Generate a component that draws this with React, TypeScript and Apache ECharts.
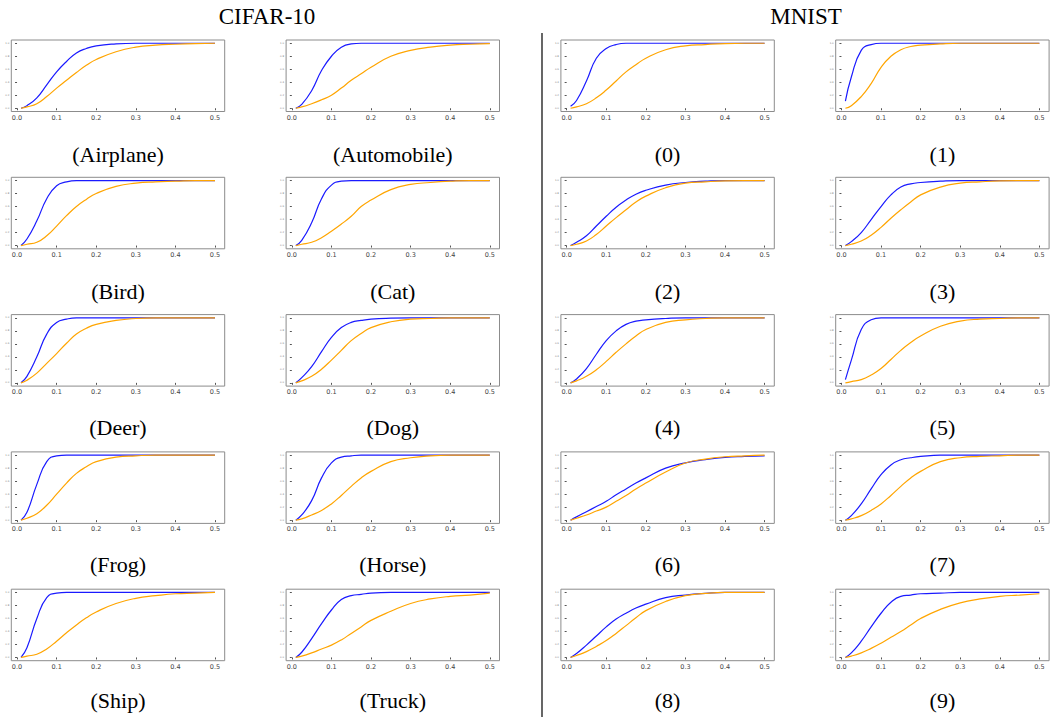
import React, { useEffect, useRef } from "react";
import * as echarts from "echarts";

const xs = [0.01, 0.025, 0.05, 0.075, 0.1, 0.125, 0.15, 0.175, 0.2, 0.25, 0.3, 0.35, 0.4, 0.45, 0.5];
const xTicks = [0, 0.1, 0.2, 0.3, 0.4, 0.5];
const yTicks = [0, 0.2, 0.4, 0.6, 0.8, 1.0];

const panelLabels = [
  "(Airplane)", "(Automobile)", "(0)", "(1)",
  "(Bird)", "(Cat)", "(2)", "(3)",
  "(Deer)", "(Dog)", "(4)", "(5)",
  "(Frog)", "(Horse)", "(6)", "(7)",
  "(Ship)", "(Truck)", "(8)", "(9)",
];
const headers = ["CIFAR-10", "MNIST"];

const blueAirplane = [0, 0.04, 0.16, 0.36, 0.56, 0.72, 0.85, 0.92, 0.96, 0.99, 1, 1, 1, 1, 1];
const orangeAirplane = [0, 0.02, 0.07, 0.18, 0.31, 0.43, 0.55, 0.66, 0.75, 0.87, 0.94, 0.97, 0.985, 0.995, 1];
const blueAutomobile = [0, 0.06, 0.27, 0.58, 0.8, 0.94, 0.99, 1, 1, 1, 1, 1, 1, 1, 1];
const orangeAutomobile = [0, 0.02, 0.07, 0.13, 0.2, 0.31, 0.43, 0.53, 0.63, 0.8, 0.89, 0.94, 0.97, 0.985, 0.995];
const blueM0 = [0.03, 0.12, 0.42, 0.77, 0.92, 0.98, 1, 1, 1, 1, 1, 1, 1, 1, 1];
const orangeM0 = [0, 0.02, 0.07, 0.16, 0.28, 0.42, 0.56, 0.67, 0.77, 0.9, 0.96, 0.98, 0.995, 1, 1];
const blueM1 = [0.11, 0.48, 0.89, 0.98, 1, 1, 1, 1, 1, 1, 1, 1, 1, 1, 1];
const orangeM1 = [0, 0.04, 0.18, 0.38, 0.63, 0.8, 0.9, 0.95, 0.97, 0.99, 1, 1, 1, 1, 1];

const blueBird = [0, 0.1, 0.38, 0.72, 0.92, 0.98, 1, 1, 1, 1, 1, 1, 1, 1, 1];
const orangeBird = [0, 0.02, 0.05, 0.15, 0.3, 0.46, 0.6, 0.71, 0.8, 0.91, 0.96, 0.98, 0.99, 1, 1];
const blueCat = [0, 0.08, 0.35, 0.72, 0.93, 0.99, 1, 1, 1, 1, 1, 1, 1, 1, 1];
const orangeCat = [0, 0.02, 0.05, 0.12, 0.22, 0.33, 0.45, 0.6, 0.7, 0.86, 0.94, 0.97, 0.99, 1, 1];
const blueM2 = [0, 0.05, 0.15, 0.3, 0.45, 0.59, 0.7, 0.79, 0.85, 0.93, 0.97, 0.99, 1, 1, 1];
const orangeM2 = [0, 0.02, 0.07, 0.17, 0.3, 0.43, 0.55, 0.67, 0.76, 0.89, 0.96, 0.98, 0.995, 1, 1];
const blueM3 = [0, 0.06, 0.2, 0.4, 0.6, 0.78, 0.9, 0.95, 0.97, 0.99, 1, 1, 1, 1, 1];
const orangeM3 = [0, 0.02, 0.07, 0.16, 0.28, 0.42, 0.55, 0.67, 0.78, 0.9, 0.96, 0.98, 0.995, 1, 1];

const blueDeer = [0, 0.1, 0.4, 0.75, 0.93, 0.98, 1, 1, 1, 1, 1, 1, 1, 1, 1];
const orangeDeer = [0, 0.04, 0.15, 0.3, 0.45, 0.61, 0.75, 0.84, 0.9, 0.96, 0.99, 1, 1, 1, 1];
const blueDog = [0, 0.08, 0.25, 0.48, 0.7, 0.85, 0.93, 0.96, 0.98, 0.995, 1, 1, 1, 1, 1];
const orangeDog = [0, 0.03, 0.1, 0.21, 0.35, 0.5, 0.65, 0.76, 0.85, 0.94, 0.98, 0.99, 1, 1, 1];
const blueM4 = [0, 0.06, 0.22, 0.44, 0.65, 0.8, 0.9, 0.95, 0.97, 0.99, 1, 1, 1, 1, 1];
const orangeM4 = [0, 0.03, 0.1, 0.2, 0.33, 0.47, 0.6, 0.72, 0.82, 0.93, 0.97, 0.99, 1, 1, 1];
const blueM5 = [0.05, 0.35, 0.82, 0.97, 1, 1, 1, 1, 1, 1, 1, 1, 1, 1, 1];
const orangeM5 = [0, 0.02, 0.05, 0.12, 0.22, 0.36, 0.5, 0.62, 0.72, 0.87, 0.95, 0.98, 0.99, 1, 1];

const blueFrog = [0, 0.12, 0.55, 0.9, 0.99, 1, 1, 1, 1, 1, 1, 1, 1, 1, 1];
const orangeFrog = [0, 0.03, 0.1, 0.23, 0.4, 0.57, 0.72, 0.82, 0.9, 0.97, 0.99, 1, 1, 1, 1];
const blueHorse = [0, 0.08, 0.3, 0.65, 0.88, 0.97, 0.99, 1, 1, 1, 1, 1, 1, 1, 1];
const orangeHorse = [0, 0.02, 0.08, 0.15, 0.25, 0.38, 0.52, 0.65, 0.75, 0.9, 0.96, 0.99, 1, 1, 1];
const blueM6 = [0, 0.05, 0.13, 0.21, 0.29, 0.39, 0.48, 0.57, 0.65, 0.8, 0.88, 0.93, 0.965, 0.98, 0.99];
const orangeM6 = [0, 0.03, 0.08, 0.14, 0.2, 0.29, 0.38, 0.48, 0.57, 0.74, 0.88, 0.94, 0.975, 0.99, 1];
const blueM7 = [0, 0.07, 0.25, 0.48, 0.7, 0.85, 0.93, 0.96, 0.98, 1, 1, 1, 1, 1, 1];
const orangeM7 = [0, 0.02, 0.07, 0.15, 0.25, 0.38, 0.52, 0.65, 0.75, 0.9, 0.96, 0.98, 0.99, 1, 1];

const blueShip = [0, 0.15, 0.6, 0.92, 0.99, 1, 1, 1, 1, 1, 1, 1, 1, 1, 1];
const orangeShip = [0, 0.02, 0.05, 0.13, 0.25, 0.38, 0.5, 0.61, 0.7, 0.83, 0.91, 0.95, 0.98, 0.99, 1];
const blueTruck = [0, 0.08, 0.29, 0.52, 0.73, 0.89, 0.95, 0.97, 0.99, 1, 1, 1, 1, 1, 1];
const orangeTruck = [0, 0.02, 0.07, 0.13, 0.19, 0.27, 0.37, 0.47, 0.57, 0.71, 0.83, 0.9, 0.94, 0.96, 0.99];
const blueM8 = [0, 0.06, 0.19, 0.33, 0.47, 0.59, 0.68, 0.76, 0.82, 0.92, 0.96, 0.985, 1, 1, 1];
const orangeM8 = [0, 0.03, 0.09, 0.17, 0.26, 0.37, 0.49, 0.61, 0.72, 0.86, 0.95, 0.985, 1, 1, 1];
const blueM9 = [0, 0.07, 0.25, 0.47, 0.68, 0.85, 0.94, 0.96, 0.98, 0.99, 1, 1, 1, 1, 1];
const orangeM9 = [0, 0.02, 0.07, 0.14, 0.22, 0.31, 0.4, 0.5, 0.6, 0.74, 0.84, 0.9, 0.94, 0.96, 0.98];

const blueSeries = [
  blueAirplane, blueAutomobile, blueM0, blueM1,
  blueBird, blueCat, blueM2, blueM3,
  blueDeer, blueDog, blueM4, blueM5,
  blueFrog, blueHorse, blueM6, blueM7,
  blueShip, blueTruck, blueM8, blueM9,
];
const orangeSeries = [
  orangeAirplane, orangeAutomobile, orangeM0, orangeM1,
  orangeBird, orangeCat, orangeM2, orangeM3,
  orangeDeer, orangeDog, orangeM4, orangeM5,
  orangeFrog, orangeHorse, orangeM6, orangeM7,
  orangeShip, orangeTruck, orangeM8, orangeM9,
];

const BLUE = "#1a1aff";
const ORANGE = "#ffa500";

export default function App() {
  const ref = useRef<HTMLDivElement>(null);
  useEffect(() => {
    if (!ref.current) return;
    const chart = echarts.init(ref.current, null, { renderer: "svg" });
    const grids: any[] = [];
    const xAxes: any[] = [];
    const yAxes: any[] = [];
    const series: any[] = [];
    const graphics: any[] = [];
    const boxW = 213.4;
    const boxH = 71.5;
    for (let i = 0; i < 20; i++) {
      const r = Math.floor(i / 4);
      const c = i % 4;
      const zeroX = 17 + 274.8 * c;
      const left = zeroX - 5.7;
      const top = 40 + 137.3 * r;
      grids.push({
        left, top, width: boxW, height: boxH,
        show: true, borderColor: "#8c8c8c", borderWidth: 1, backgroundColor: "transparent",
        containLabel: false,
      });
      xAxes.push({
        type: "value", gridIndex: i, min: -0.0145, max: 0.5245,
        axisLine: { show: false },
        splitLine: { show: false },
        axisTick: { show: true, length: 2, customValues: xTicks, lineStyle: { color: "#555" } },
        axisLabel: {
          show: true, customValues: xTicks, fontSize: 6.5, color: "#444", margin: 2.5,
          fontFamily: "DejaVu Sans",
          formatter: (v: number) => v.toFixed(1),
        },
      });
      yAxes.push({
        type: "value", gridIndex: i, min: -0.05, max: 1.05,
        axisLine: { show: false },
        splitLine: { show: false },
        axisTick: { show: true, length: 2, customValues: yTicks, lineStyle: { color: "#555" } },
        axisLabel: {
          show: true, customValues: yTicks, fontSize: 2.5, color: "#777", margin: 2,
          fontFamily: "DejaVu Sans",
          formatter: (v: number) => v.toFixed(1),
        },
      });
      const mk = (vals: number[], color: string, name: string) => ({
        type: "line", name, xAxisIndex: i, yAxisIndex: i,
        data: xs.map((x, k) => [x, vals[k]]),
        showSymbol: false, symbol: "none",
        smooth: 0.5,
        lineStyle: { color, width: 1.2 },
        silent: true,
      });
      series.push(mk(blueSeries[i], BLUE, "blue"));
      series.push(mk(orangeSeries[i], ORANGE, "orange"));
      graphics.push({
        type: "text",
        x: left + boxW / 2, y: 154.5 + 136.6 * r,
        style: {
          text: panelLabels[i], fill: "#000", fontSize: 22,
          fontFamily: "Liberation Serif", textAlign: "center", textVerticalAlign: "middle",
        },
      });
    }
    graphics.push({
      type: "text", x: 267, y: 16,
      style: { text: headers[0], fill: "#000", fontSize: 23, fontFamily: "Liberation Serif", textAlign: "center", textVerticalAlign: "middle" },
    });
    graphics.push({
      type: "text", x: 806, y: 16,
      style: { text: headers[1], fill: "#000", fontSize: 23, fontFamily: "Liberation Serif", textAlign: "center", textVerticalAlign: "middle" },
    });
    graphics.push({
      type: "line",
      shape: { x1: 542, y1: 33, x2: 542, y2: 717 },
      style: { stroke: "#000", lineWidth: 1.2 },
    });
    chart.setOption({
      animation: false,
      backgroundColor: "#fff",
      grid: grids,
      xAxis: xAxes,
      yAxis: yAxes,
      series,
      graphic: graphics,
    });
    return () => chart.dispose();
  }, []);
  return (
    <div
      ref={ref}
      style={{ position: "fixed", left: 0, top: 0, width: 1050, height: 717 }}
    />
  );
}
